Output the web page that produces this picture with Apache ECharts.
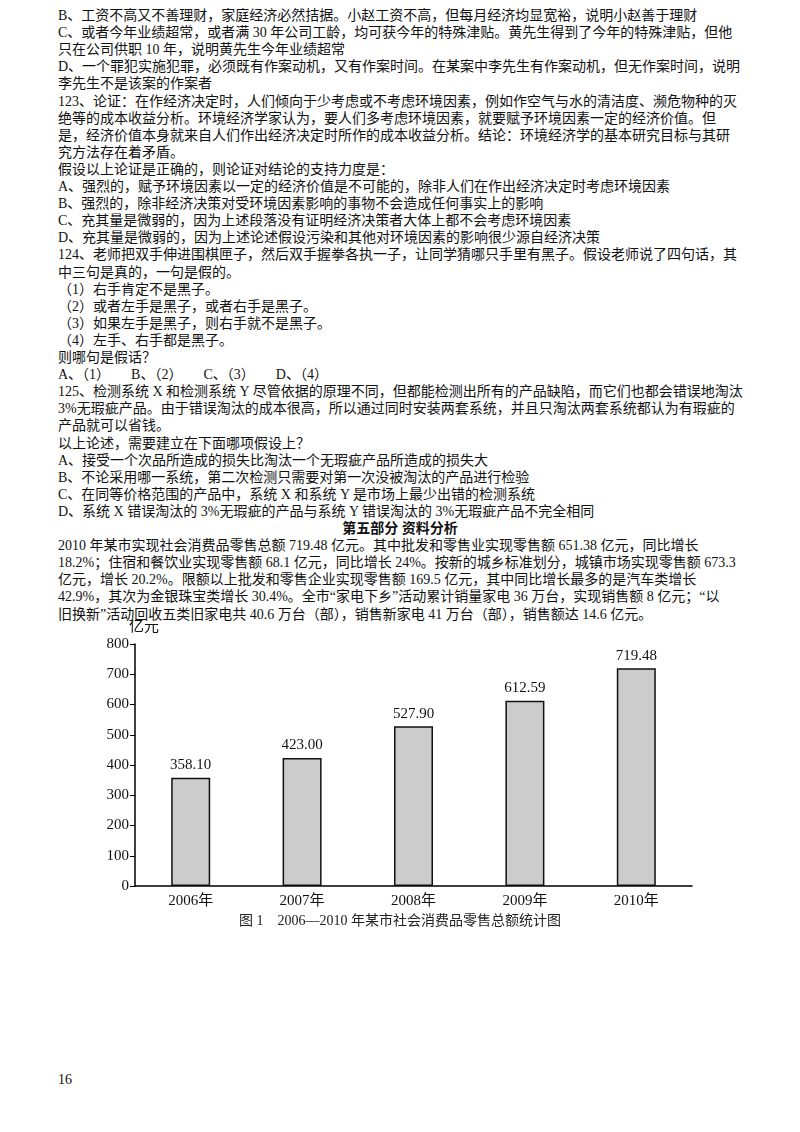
<!DOCTYPE html>
<html>
<head>
<meta charset="utf-8">
<script src="https://cdn.jsdelivr.net/npm/echarts@6/dist/echarts.min.js"></script>
<style>
body{margin:0;background:#fff;width:800px;height:1132px;position:relative;overflow:hidden;font-family:"Liberation Serif","Noto Sans CJK SC",serif;color:#111;}
.ln{position:absolute;left:58px;font-size:14px;line-height:16px;white-space:nowrap;}
#chart{position:absolute;left:0;top:620px;width:800px;height:330px;}
</style>
</head>
<body>
<div id="text"></div>
<div id="chart"></div>
<div class="ln" style="top:1072px">16</div>
<script>
var textLines = [
	"B、工资不高又不善理财，家庭经济必然拮据。小赵工资不高，但每月经济均显宽裕，说明小赵善于理财",
	"C、或者今年业绩超常，或者满 30 年公司工龄，均可获今年的特殊津贴。黄先生得到了今年的特殊津贴，但他",
	"只在公司供职 10 年，说明黄先生今年业绩超常",
	"D、一个罪犯实施犯罪，必须既有作案动机，又有作案时间。在某案中李先生有作案动机，但无作案时间，说明",
	"李先生不是该案的作案者",
	"123、论证：在作经济决定时，人们倾向于少考虑或不考虑环境因素，例如作空气与水的清洁度、濒危物种的灭",
	"绝等的成本收益分析。环境经济学家认为，要人们多考虑环境因素，就要赋予环境因素一定的经济价值。但",
	"是，经济价值本身就来自人们作出经济决定时所作的成本收益分析。结论：环境经济学的基本研究目标与其研",
	"究方法存在着矛盾。",
	"假设以上论证是正确的，则论证对结论的支持力度是：",
	"A、强烈的，赋予环境因素以一定的经济价值是不可能的，除非人们在作出经济决定时考虑环境因素",
	"B、强烈的，除非经济决策对受环境因素影响的事物不会造成任何事实上的影响",
	"C、充其量是微弱的，因为上述段落没有证明经济决策者大体上都不会考虑环境因素",
	"D、充其量是微弱的，因为上述论述假设污染和其他对环境因素的影响很少源自经济决策",
	"124、老师把双手伸进围棋匣子，然后双手握拳各执一子，让同学猜哪只手里有黑子。假设老师说了四句话，其",
	"中三句是真的，一句是假的。",
	"（1）右手肯定不是黑子。",
	"（2）或者左手是黑子，或者右手是黑子。",
	"（3）如果左手是黑子，则右手就不是黑子。",
	"（4）左手、右手都是黑子。",
	"则哪句是假话？",
	"A、（1）　　B、（2）　　C、（3）　　D、（4）",
	"125、检测系统 X 和检测系统 Y 尽管依据的原理不同，但都能检测出所有的产品缺陷，而它们也都会错误地淘汰",
	"3%无瑕疵产品。由于错误淘汰的成本很高，所以通过同时安装两套系统，并且只淘汰两套系统都认为有瑕疵的",
	"产品就可以省钱。",
	"以上论述，需要建立在下面哪项假设上？",
	"A、接受一个次品所造成的损失比淘汰一个无瑕疵产品所造成的损失大",
	"B、不论采用哪一系统，第二次检测只需要对第一次没被淘汰的产品进行检验",
	"C、在同等价格范围的产品中，系统 X 和系统 Y 是市场上最少出错的检测系统",
	"D、系统 X 错误淘汰的 3%无瑕疵的产品与系统 Y 错误淘汰的 3%无瑕疵产品不完全相同",
	"#第五部分 资料分析",
	"2010 年某市实现社会消费品零售总额 719.48 亿元。其中批发和零售业实现零售额 651.38 亿元，同比增长",
	"18.2%；住宿和餐饮业实现零售额 68.1 亿元，同比增长 24%。按新的城乡标准划分，城镇市场实现零售额 673.3",
	"亿元，增长 20.2%。限额以上批发和零售企业实现零售额 169.5 亿元，其中同比增长最多的是汽车类增长",
	"42.9%，其次为金银珠宝类增长 30.4%。全市“家电下乡”活动累计销量家电 36 万台，实现销售额 8 亿元；“以",
	"旧换新”活动回收五类旧家电共 40.6 万台（部），销售新家电 41 万台（部），销售额达 14.6 亿元。"
];
var years = ['2006年', '2007年', '2008年', '2009年', '2010年'];
var sales = [358.10, 423.00, 527.90, 612.59, 719.48];
var yTicks = [0, 800, 100];

var box = document.getElementById('text');
for (var i = 0; i < textLines.length; i++) {
	var d = document.createElement('div');
	d.className = 'ln';
	d.style.top = (8 + i * 17.1) + 'px';
	var t = textLines[i];
	if (t.charAt(0) == '#') {
		t = t.substring(1);
		d.style.left = '0';
		d.style.width = '800px';
		d.style.textAlign = 'center';
		d.style.fontWeight = 'bold';
	}
	d.textContent = t;
	box.appendChild(d);
}

var myChart = echarts.init(document.getElementById('chart'));
var font = '"Liberation Serif","Noto Sans CJK SC",serif';
var option = {
	animation: false,
	grid: { left: 135, right: 108, top: 24, bottom: 64 },
	xAxis: {
		type: 'category',
		data: years,
		axisLine: { lineStyle: { color: '#000', width: 1.5 } },
		axisTick: { inside: true, length: 6, lineStyle: { color: '#000' } },
		axisLabel: { color: '#111', fontSize: 15, fontFamily: font, margin: 8 }
	},
	yAxis: {
		type: 'value',
		min: yTicks[0], max: yTicks[1], interval: yTicks[2],
		name: '亿元',
		nameLocation: 'end',
		nameGap: 9,
		nameTextStyle: { color: '#111', fontSize: 15, fontFamily: font, align: 'left', padding: [0, 0, 0, -6] },
		axisLine: { show: true, lineStyle: { color: '#000', width: 1.5 } },
		axisTick: { show: true, length: 5, lineStyle: { color: '#000' } },
		axisLabel: { color: '#111', fontSize: 15, fontFamily: font, margin: 6 },
		splitLine: { show: false }
	},
	series: [{
		type: 'bar',
		data: sales,
		barWidth: '35%',
		itemStyle: { color: '#cccccc', borderColor: '#111', borderWidth: 1.5 },
		label: {
			show: true, position: 'top', color: '#111', fontSize: 15, fontFamily: font,
			formatter: function (p) { return p.value.toFixed(2); }
		}
	}],
	graphic: [{
		type: 'text', left: 'center', top: 294,
		style: { text: '图 1　2006—2010 年某市社会消费品零售总额统计图', fill: '#222', font: '14px ' + font }
	}]
};
myChart.setOption(option);
</script>
</body>
</html>
